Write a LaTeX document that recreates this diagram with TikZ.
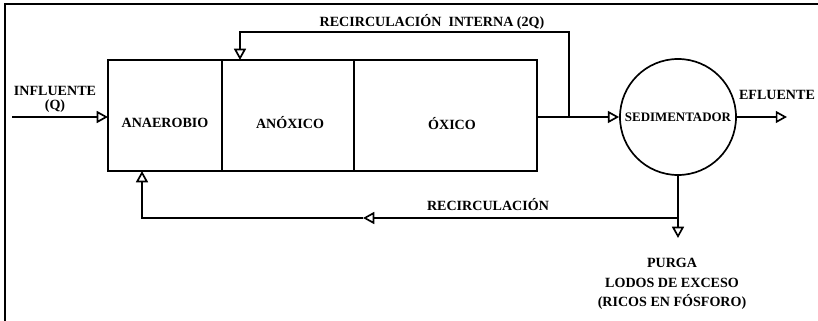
\documentclass[tikz,border=0pt]{standalone}
\usepackage{fontspec}
\setmainfont{Liberation Serif}
\usetikzlibrary{arrows.meta,positioning}

\begin{document}
\begin{tikzpicture}[x=0.025cm,y=-0.025cm,->,>={Triangle[open,length=8pt,width=8.5pt]},
                    line width=1.2pt,font=\fontsize{10}{12}\selectfont\bfseries]
  \tikzstyle{zone}=[draw,rectangle,inner sep=0pt,outer sep=0pt,minimum height=2.775cm]
  \tikzstyle{lbl}=[inner sep=1pt,align=center]

  \useasboundingbox (0,0) rectangle (818,321);
  \draw[-,line width=1.4pt] (5,330) |- (830,4);

  % reactor zones
  \node[zone,minimum width=2.85cm]              (anaer) at (165,115.5) {};
  \node[zone,minimum width=3.3cm,right=0pt of anaer]  (anox) {};
  \node[zone,minimum width=4.575cm,right=0pt of anox] (oxi)  {};
  \node[lbl] (tanaer) at (165,123) {ANAEROBIO};
  \node[lbl] (tanox)  at (290,123) {ANÓXICO};
  \node[lbl] (toxi)   at (452,124) {ÓXICO};

  \node[circle,draw,inner sep=0pt,minimum size=2.9cm,font=\fontsize{9.2}{11}\selectfont\bfseries]
       (sed) at (678,117) {SEDIMENTADOR};

  \coordinate (inf)   at (12,117);
  \coordinate (junc)  at (569,117);
  \coordinate (rint)  at (240,32);
  \coordinate (efl)   at (787,117);
  \coordinate (purga) at (678,238);
  \coordinate (rj)    at (678,218);
  \coordinate (rmid)  at (363,218);
  \coordinate (rr)    at (142,218);

  \draw (inf) -- (inf -| anaer.west);
  \draw (oxi.east |- junc) -- (sed.west);
  \draw (junc) |- (rint) -- (rint |- anox.north);
  \draw (sed.east) -- (efl);
  \draw (sed.south) -- (purga);
  \draw (rj) -- (rmid);
  \draw (rmid) -- (rr) -- (rr |- anaer.south);

  \node[lbl] (tinf)  at (55,99) {INFLUENTE\\[-2pt](Q)};
  \node[lbl] (trint) at (432,22) {RECIRCULACIÓN\ \ INTERNA (2Q)};
  \node[lbl] (tefl)  at (777,95) {EFLUENTE};
  \node[lbl] (trec)  at (488,205) {RECIRCULACIÓN};
  \node[lbl] (tpur)  at (672,284) {PURGA\\[2pt]LODOS DE EXCESO\\[2pt](RICOS EN FÓSFORO)};
\end{tikzpicture}
\end{document}
